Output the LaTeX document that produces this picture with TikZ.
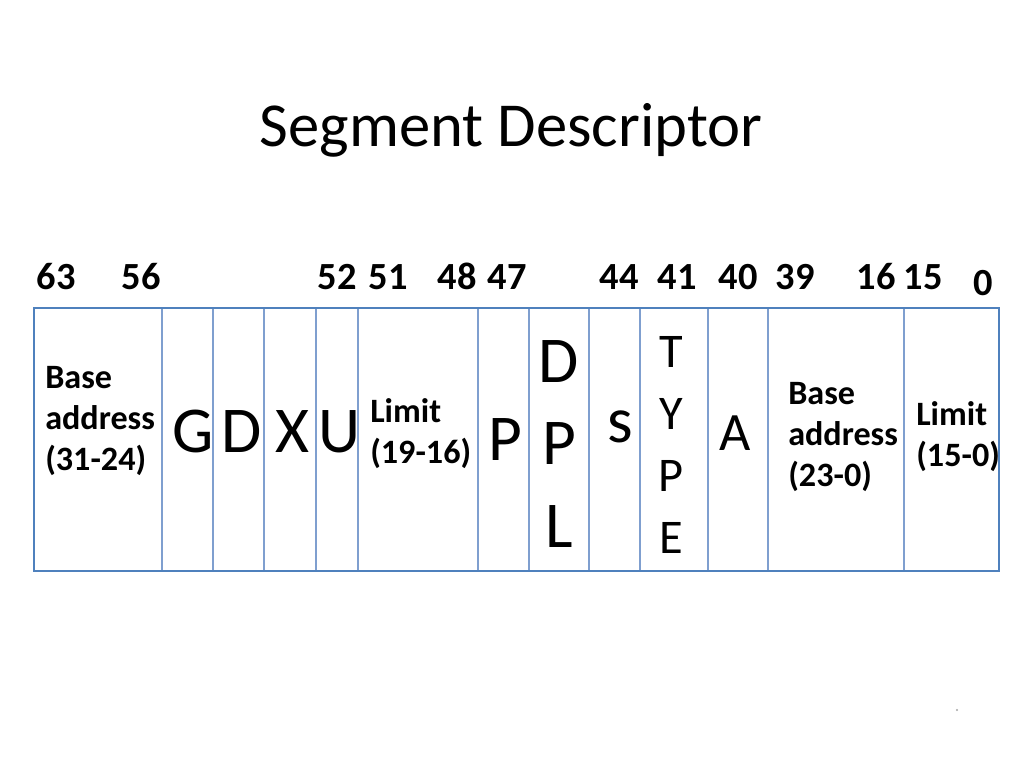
\documentclass[tikz,border=0pt]{standalone}
\usepackage{fontspec}
\setmainfont{Carlito}
\usetikzlibrary{positioning}
\definecolor{regblue}{HTML}{4F81BD}
\definecolor{divblue}{HTML}{7F9FCF}
\tikzset{
  regframe/.style={draw=regblue,line width=2pt},
  divider/.style={draw=divblue,line width=0.9pt},
  slidetitle/.style={font=\fontsize{44}{53}\selectfont,anchor=base,inner sep=0pt},
  bitnum/.style={font=\fontsize{27}{32}\selectfont\bfseries,anchor=base,inner sep=0pt},
  flagbit/.style={font=\fontsize{46}{55}\selectfont,anchor=base,inner sep=0pt},
  % multi-line nodes: base anchor sits on the last line
  fieldlbl/.style={font=\fontsize{24}{28.5}\selectfont\bfseries,align=left,
    anchor=base west,inner sep=0pt},
  stacked/.style={align=center,anchor=base,inner sep=0pt},
}
\begin{document}
\begin{tikzpicture}[x=0.703125pt,y=-0.703125pt]
  \useasboundingbox[fill=white] (0,0) rectangle (1024,768);
  \node[slidetitle] (title) at (511,147) {Segment Descriptor};

  % bit positions
  \node[bitnum] (b63) at (56,290) {63};
  \node[bitnum] (b56) at (141,290) {56};
  \node[bitnum] (b52) at (337,290) {52};
  \node[bitnum] (b51) at (388,290) {51};
  \node[bitnum] (b48) at (457,290) {48};
  \node[bitnum] (b47) at (507,290) {47};
  \node[bitnum] (b44) at (619,290) {44};
  \node[bitnum] (b41) at (677,290) {41};
  \node[bitnum] (b40) at (738,290) {40};
  \node[bitnum] (b39) at (795,290) {39};
  \node[bitnum] (b16) at (876,290) {16};
  \node[bitnum] (b15) at (923,290) {15};
  \node[bitnum] (b0) at (983,296) {0};

  % descriptor fields
  \foreach \x in {162,213,264,316,358,478,529,589,640,708,768,904}
    \draw[divider] (\x,308) -- (\x,571);
  \draw[regframe] (34,308) rectangle (999,571);

  \node[fieldlbl] (basehi) at (45,470) {Base\\address\\(31-24)};
  \node[flagbit] (gran) at (193,452) {G};
  \node[flagbit] (dsize) at (242,452) {D};
  \node[flagbit] (xbit) at (292,452) {X};
  \node[flagbit] (ubit) at (339,452) {U};
  \node[fieldlbl] (limhi) at (370,463) {Limit\\(19-16)};
  \node[flagbit] (pres) at (505,460) {P};
  \node[stacked,font=\fontsize{46}{57.7}\selectfont] (dpl) at (559,547) {D\\P\\L};
  \node[flagbit] (sbit) at (620,442) {s};
  \node[stacked,font=\fontsize{34}{43.4}\selectfont] (type) at (671,553) {T\\Y\\P\\E};
  \node[flagbit,font=\fontsize{38}{46}\selectfont] (acc) at (735,450) {A};
  \node[fieldlbl] (baselo) at (788,486) {Base\\address\\(23-0)};
  \node[fieldlbl] (limlo) at (916,466) {Limit\\(15-0)};

  \fill[gray!70] (957,710) circle (1.2);
\end{tikzpicture}
\end{document}
